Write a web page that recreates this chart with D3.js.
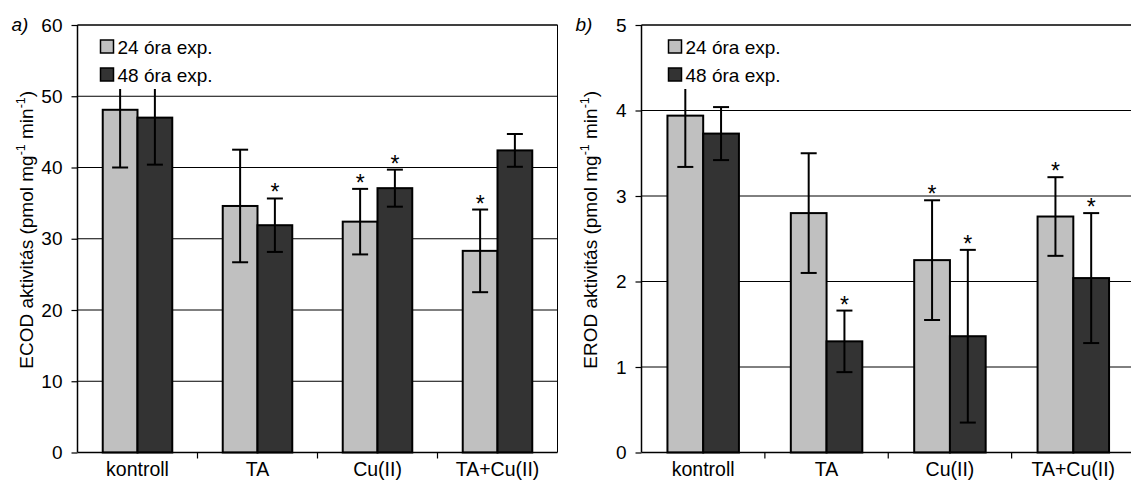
<!DOCTYPE html>
<html>
<head>
<meta charset="utf-8">
<script src="https://cdn.jsdelivr.net/npm/d3@7"></script>
<style>
  body { margin: 0; background: #fff; }
  svg { display: block; font-family: "Liberation Sans", Arial, sans-serif; }
</style>
</head>
<body>
<svg id="chart" width="1131" height="491"></svg>
<script>
var categories = ["kontroll", "TA", "Cu(II)", "TA+Cu(II)"];
var seriesNames = ["24 óra exp.", "48 óra exp."];

// ECOD (a)
var ecod24 = [48.1, 34.6, 32.4, 28.3];
var ecod48 = [47.0, 31.9, 37.1, 42.4];
var ecod24Err = [8.1, 7.9, 4.6, 5.8];
var ecod48Err = [6.6, 3.75, 2.6, 2.3];
var ecod24Sig = [false, false, true, true];
var ecod48Sig = [false, true, true, false];
var ecodTicks = [0, 10, 20, 30, 40, 50, 60];

// EROD (b)
var erod24 = [3.94, 2.80, 2.25, 2.76];
var erod48 = [3.73, 1.30, 1.36, 2.04];
var erod24Err = [0.60, 0.70, 0.70, 0.46];
var erod48Err = [0.31, 0.36, 1.01, 0.76];
var erod24Sig = [false, false, true, true];
var erod48Sig = [false, true, true, true];
var erodTicks = [0, 1, 2, 3, 4, 5];

var colors = ["#c0c0c0", "#333333"];
var fs = 19;

var svg = d3.select("#chart");

function buildRows(v24, v48, e24, e48, s24, s48) {
  var rows = [];
  categories.forEach(function(c, i) {
    rows.push({cat: c, series: seriesNames[0], value: v24[i], err: e24[i], sig: s24[i]});
    rows.push({cat: c, series: seriesNames[1], value: v48[i], err: e48[i], sig: s48[i]});
  });
  return rows;
}

function drawPanel(cfg) {
  var x0 = d3.scaleBand().domain(categories).range([cfg.left, cfg.right]).padding(0);
  var x1 = d3.scaleBand().domain(seriesNames).range([0, x0.bandwidth()])
    .paddingInner(0).paddingOuter(0.726);
  var y = d3.scaleLinear().domain([0, d3.max(cfg.ticks)]).range([cfg.bottom, cfg.top]);

  var g = svg.append("g");

  // gridlines
  g.selectAll(".grid")
    .data(cfg.ticks.slice(1))
    .enter().append("line")
    .attr("x1", cfg.left).attr("x2", cfg.right)
    .attr("y1", function(d) { return y(d); })
    .attr("y2", function(d) { return y(d); })
    .attr("stroke", "#000").attr("stroke-width", 1);

  // right border
  g.append("line")
    .attr("x1", cfg.right).attr("x2", cfg.right)
    .attr("y1", cfg.top).attr("y2", cfg.bottom)
    .attr("stroke", "#000").attr("stroke-width", 1);

  // y axis
  var yAxis = d3.axisLeft(y).tickValues(cfg.ticks).tickSize(6).tickPadding(9)
    .tickFormat(d3.format("d"));
  var ya = g.append("g")
    .attr("transform", "translate(" + cfg.left + ",0)")
    .call(yAxis);
  ya.select(".domain").remove();
  ya.selectAll("line").attr("stroke", "#000").attr("stroke-width", 1.2);
  ya.selectAll("text").attr("font-size", fs).attr("fill", "#000")
    .style("font-family", "Liberation Sans, Arial, sans-serif");
  g.append("line")
    .attr("x1", cfg.left).attr("x2", cfg.left)
    .attr("y1", cfg.top).attr("y2", cfg.bottom)
    .attr("stroke", "#000").attr("stroke-width", 1.5);

  var rows = buildRows(cfg.v24, cfg.v48, cfg.e24, cfg.e48, cfg.s24, cfg.s48);

  // bars
  g.selectAll(".bar")
    .data(rows)
    .enter().append("rect")
    .attr("x", function(d) { return x0(d.cat) + x1(d.series); })
    .attr("width", x1.bandwidth())
    .attr("y", function(d) { return y(d.value); })
    .attr("height", function(d) { return y(0) - y(d.value); })
    .attr("fill", function(d) { return colors[seriesNames.indexOf(d.series)]; })
    .attr("stroke", "#000").attr("stroke-width", 2);

  // error bars
  var cx = function(d) { return x0(d.cat) + x1(d.series) + x1.bandwidth() / 2; };
  var eb = g.selectAll(".err").data(rows).enter().append("g")
    .attr("stroke", "#000").attr("stroke-width", 2);
  eb.append("line")
    .attr("x1", cx).attr("x2", cx)
    .attr("y1", function(d) { return y(d.value + d.err); })
    .attr("y2", function(d) { return y(d.value - d.err); });
  eb.append("line")
    .attr("x1", function(d) { return cx(d) - 8; }).attr("x2", function(d) { return cx(d) + 8; })
    .attr("y1", function(d) { return y(d.value + d.err); })
    .attr("y2", function(d) { return y(d.value + d.err); });
  eb.append("line")
    .attr("x1", function(d) { return cx(d) - 8; }).attr("x2", function(d) { return cx(d) + 8; })
    .attr("y1", function(d) { return y(d.value - d.err); })
    .attr("y2", function(d) { return y(d.value - d.err); });

  // significance stars
  g.selectAll(".star")
    .data(rows.filter(function(d) { return d.sig; }))
    .enter().append("text")
    .attr("x", cx)
    .attr("y", function(d) { return y(d.value + d.err) + 2; })
    .attr("text-anchor", "middle")
    .attr("font-size", 23)
    .text("*");

  // x axis
  g.append("line")
    .attr("x1", cfg.left).attr("x2", cfg.right)
    .attr("y1", cfg.bottom).attr("y2", cfg.bottom)
    .attr("stroke", "#000").attr("stroke-width", 1.5);
  g.selectAll(".xtick")
    .data(categories.slice(1))
    .enter().append("line")
    .attr("x1", function(d) { return x0(d); }).attr("x2", function(d) { return x0(d); })
    .attr("y1", cfg.bottom).attr("y2", cfg.bottom + 6)
    .attr("stroke", "#000").attr("stroke-width", 1.2);
  g.selectAll(".xlabel")
    .data(categories)
    .enter().append("text")
    .attr("x", function(d) { return x0(d) + x0.bandwidth() / 2; })
    .attr("y", cfg.bottom + 23)
    .attr("text-anchor", "middle")
    .attr("font-size", 19.5)
    .text(function(d) { return d; });

  // top border
  g.append("line")
    .attr("x1", cfg.left).attr("x2", cfg.right)
    .attr("y1", cfg.top).attr("y2", cfg.top)
    .attr("stroke", "#000").attr("stroke-width", 1);

  // y title
  var t = g.append("text")
    .attr("transform", "translate(" + (cfg.left - 45) + "," + ((cfg.top + cfg.bottom) / 2 - 9) + ") rotate(-90)")
    .attr("text-anchor", "middle")
    .attr("font-size", fs);
  t.append("tspan").text(cfg.title + " (pmol mg");
  t.append("tspan").attr("dy", -8).attr("font-size", 12.5).text("-1");
  t.append("tspan").attr("dy", 8).text(" min");
  t.append("tspan").attr("dy", -8).attr("font-size", 12.5).text("-1");
  t.append("tspan").attr("dy", 8).text(")");

  // panel letter
  g.append("text")
    .attr("x", cfg.left - 66)
    .attr("y", cfg.top + 6)
    .attr("font-size", fs)
    .attr("font-style", "italic")
    .text(cfg.letter);

  // legend
  var lx = cfg.left + cfg.legendDx;
  var leg = g.append("g");
  leg.append("rect")
    .attr("x", lx - 4).attr("y", cfg.top + 8)
    .attr("width", 125).attr("height", 56)
    .attr("fill", "#fff");
  var item = leg.selectAll(".li")
    .data(seriesNames)
    .enter().append("g")
    .attr("transform", function(d, i) { return "translate(" + lx + "," + (cfg.top + 15 + i * 28) + ")"; });
  item.append("rect")
    .attr("width", 13).attr("height", 13)
    .attr("fill", function(d, i) { return colors[i]; })
    .attr("stroke", "#000").attr("stroke-width", 1.5);
  item.append("text")
    .attr("x", 17).attr("y", 14)
    .attr("font-size", fs)
    .text(function(d) { return d; });
}

drawPanel({
  left: 77.5, right: 557.5, top: 25, bottom: 452.5,
  ticks: ecodTicks, title: "ECOD aktivitás", letter: "a)", legendDx: 23,
  v24: ecod24, v48: ecod48, e24: ecod24Err, e48: ecod48Err, s24: ecod24Sig, s48: ecod48Sig
});

drawPanel({
  left: 641.5, right: 1135, top: 25, bottom: 452.5,
  ticks: erodTicks, title: "EROD aktivitás", letter: "b)", legendDx: 27,
  v24: erod24, v48: erod48, e24: erod24Err, e48: erod48Err, s24: erod24Sig, s48: erod48Sig
});
</script>
</body>
</html>
